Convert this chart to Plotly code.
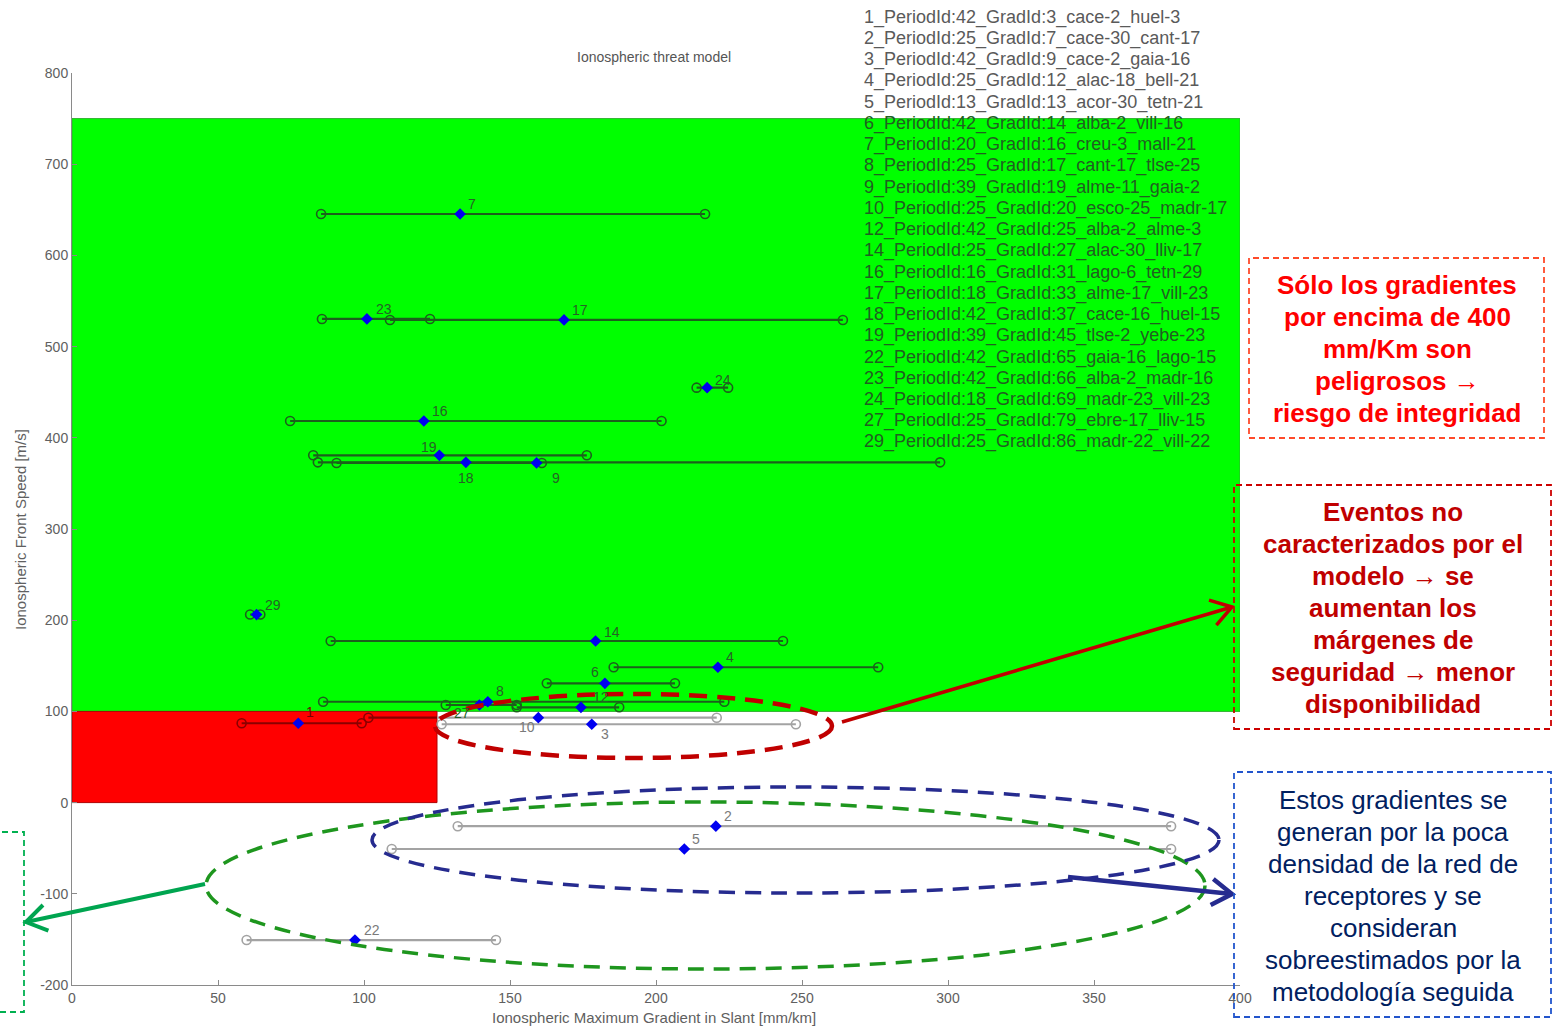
import math
import plotly.graph_objects as go

# ---------------- data ----------------
event_ids = [1, 2, 3, 4, 5, 6, 7, 8, 9, 10, 12, 14, 16, 17, 18, 19, 22, 23, 24, 27, 29]
grad_center = [77.5, 220.5, 178.0, 221.2, 209.7, 182.5, 132.9, 142.4, 159.1, 159.7, 174.3,
               179.3, 120.5, 168.5, 134.9, 125.8, 96.9, 101.0, 217.5, 139.5, 63.2]
grad_min = [58.1, 132.1, 126.6, 185.5, 109.5, 162.6, 85.3, 86.0, 90.6, 101.5, 152.3,
            88.6, 74.7, 108.9, 84.2, 82.6, 59.8, 85.6, 213.9, 128.0, 61.0]
grad_max = [99.2, 376.4, 247.9, 276.1, 376.4, 206.5, 216.8, 223.4, 160.9, 220.8, 187.4,
            243.5, 201.9, 264.0, 297.3, 176.3, 145.2, 122.6, 224.7, 152.3, 64.5]
front_speed = [87.0, -25.9, 85.9, 148.4, -50.9, 130.8, 645.4, 110.6, 372.4, 93.1, 104.5,
               177.2, 418.4, 529.2, 373.1, 380.8, -150.7, 530.3, 455.0, 107.0, 206.2]

legend_labels = [
    "1_PeriodId:42_GradId:3_cace-2_huel-3",
    "2_PeriodId:25_GradId:7_cace-30_cant-17",
    "3_PeriodId:42_GradId:9_cace-2_gaia-16",
    "4_PeriodId:25_GradId:12_alac-18_bell-21",
    "5_PeriodId:13_GradId:13_acor-30_tetn-21",
    "6_PeriodId:42_GradId:14_alba-2_vill-16",
    "7_PeriodId:20_GradId:16_creu-3_mall-21",
    "8_PeriodId:25_GradId:17_cant-17_tlse-25",
    "9_PeriodId:39_GradId:19_alme-11_gaia-2",
    "10_PeriodId:25_GradId:20_esco-25_madr-17",
    "12_PeriodId:42_GradId:25_alba-2_alme-3",
    "14_PeriodId:25_GradId:27_alac-30_lliv-17",
    "16_PeriodId:16_GradId:31_lago-6_tetn-29",
    "17_PeriodId:18_GradId:33_alme-17_vill-23",
    "18_PeriodId:42_GradId:37_cace-16_huel-15",
    "19_PeriodId:39_GradId:45_tlse-2_yebe-23",
    "22_PeriodId:42_GradId:65_gaia-16_lago-15",
    "23_PeriodId:42_GradId:66_alba-2_madr-16",
    "24_PeriodId:18_GradId:69_madr-23_vill-23",
    "27_PeriodId:25_GradId:79_ebre-17_lliv-15",
    "29_PeriodId:25_GradId:86_madr-22_vill-22",
]

x_ticks = [0, 50, 100, 150, 200, 250, 300, 350, 400]
y_ticks = [-200, -100, 0, 100, 200, 300, 400, 500, 600, 700, 800]

# threat model regions
model_grad_max = 400
model_speed_min = 100
model_speed_max = 750
low_speed_grad_max = 125
low_speed_min = 0

box1_lines = ["Sólo los gradientes", "por encima de 400", "mm/Km son",
              "peligrosos →", "riesgo de integridad"]
box2_lines = ["Eventos no", "caracterizados por el", "modelo → se", "aumentan los",
              "márgenes de", "seguridad → menor", "disponibilidad"]
box3_lines = ["Estos gradientes se", "generan por la poca", "densidad de la red de",
              "receptores y se", "consideran", "sobreestimados por la",
              "metodología seguida"]

# ---------------- layout helpers ----------------
W, H = 1555, 1027
PL, PR, PT, PB = 72, 1240, 73, 985
FONT = "Liberation Sans, Arial, sans-serif"


def px(x):
    return (x - PL) / (PR - PL)


def py(y):
    return (PB - y) / (PB - PT)


def region(x, y):
    if y >= model_speed_min:
        return "green"
    if y >= low_speed_min and x <= low_speed_grad_max:
        return "red"
    return "white"


line_col = {"green": "#1c601c", "red": "#8a0000", "white": "#a3a3a3"}
text_col = {"green": "#266226", "red": "#7a0000", "white": "#7a7a7a"}

fig = go.Figure()

# segments grouped by colour
segs = {k: ([], []) for k in line_col}
circ = {k: ([], []) for k in line_col}
for lo, hi, y in zip(grad_min, grad_max, front_speed):
    pieces = [(lo, hi)]
    if low_speed_min <= y < model_speed_min and lo < low_speed_grad_max < hi:
        pieces = [(lo, low_speed_grad_max), (low_speed_grad_max, hi)]
    for a, b in pieces:
        r = region((a + b) / 2, y)
        segs[r][0].extend([a, b, None])
        segs[r][1].extend([y, y, None])
    for v in (lo, hi):
        r = region(v, y)
        circ[r][0].append(v)
        circ[r][1].append(y)

for k in line_col:
    fig.add_trace(go.Scatter(x=segs[k][0], y=segs[k][1], mode="lines",
                             line=dict(color=line_col[k], width=2.2),
                             hoverinfo="skip", showlegend=False))
    fig.add_trace(go.Scatter(x=circ[k][0], y=circ[k][1], mode="markers",
                             marker=dict(symbol="circle-open", size=9, color=line_col[k],
                                         line=dict(width=1.6)),
                             hoverinfo="skip", showlegend=False))

fig.add_trace(go.Scatter(x=grad_center, y=front_speed, mode="markers",
                         marker=dict(symbol="diamond", size=9, color="#0000f0"),
                         text=[str(i) for i in event_ids],
                         hovertemplate="%{text}: %{x}, %{y}<extra></extra>",
                         showlegend=False))

# event number label placement (anchor, xshift, yshift)
label_pos = {
    1: ("left", 6, 11), 2: ("left", 6, 10), 3: ("left", 7, -10), 4: ("left", 6, 10),
    5: ("left", 6, 10), 6: ("right", -4, 11), 7: ("left", 6, 10), 8: ("left", 6, 11),
    9: ("left", 13, -15), 10: ("right", -1, -9), 12: ("left", 10, 10),
    14: ("left", 6, 9), 16: ("left", 6, 10), 17: ("left", 6, 10), 18: ("center", 0, -16),
    19: ("right", 0, 8), 22: ("left", 7, 10), 23: ("left", 7, 10), 24: ("left", 6, 8),
    27: ("right", -7, -8), 29: ("left", 6, 10),
}

annotations = []
for eid, xc, yc in zip(event_ids, grad_center, front_speed):
    anc, dx, dy = label_pos[eid]
    annotations.append(dict(x=xc, y=yc, xref="x", yref="y", text=str(eid),
                            showarrow=False, xanchor=anc, yanchor="middle",
                            xshift=dx, yshift=dy,
                            font=dict(family=FONT, size=14,
                                      color=text_col[region(xc, yc)])))

# legend text block
for i, lab in enumerate(legend_labels):
    ypix = 17 + i * 21.25
    col = "#5a5a5a" if ypix < 118 else "#206020"
    annotations.append(dict(x=px(862), y=py(ypix), xref="paper", yref="paper",
                            text=lab, showarrow=False, xanchor="left", yanchor="middle",
                            font=dict(family=FONT, size=18, color=col)))

# titles
annotations.append(dict(x=px(654), y=py(57), xref="paper", yref="paper",
                        text="Ionospheric threat model", showarrow=False,
                        xanchor="center", yanchor="middle",
                        font=dict(family=FONT, size=14, color="#555555")))
annotations.append(dict(x=px(654), y=py(1018), xref="paper", yref="paper",
                        text="Ionospheric Maximum Gradient in Slant [mm/km]", showarrow=False,
                        xanchor="center", yanchor="middle",
                        font=dict(family=FONT, size=15, color="#606060")))
annotations.append(dict(x=px(20), y=py(530), xref="paper", yref="paper", textangle=-90,
                        text="Ionospheric Front Speed [m/s]", showarrow=False,
                        xanchor="center", yanchor="middle",
                        font=dict(family=FONT, size=15, color="#606060")))


def text_block(lines, cx, y0, step, color, bold):
    for j, t in enumerate(lines):
        txt = f"<b>{t}</b>" if bold else t
        annotations.append(dict(x=px(cx), y=py(y0 + j * step), xref="paper", yref="paper",
                                text=txt, showarrow=False, xanchor="center",
                                yanchor="middle",
                                font=dict(family=FONT, size=26, color=color)))


text_block(box1_lines, 1397, 285, 31.9, "#ff0000", True)
text_block(box2_lines, 1393, 512, 32.05, "#c00000", True)
text_block(box3_lines, 1393, 800, 31.95, "#002060", False)

# ---------------- shapes ----------------
shapes = [
    dict(type="rect", xref="x", yref="y", x0=0, x1=model_grad_max,
         y0=model_speed_min, y1=model_speed_max, fillcolor="#00ff00",
         line=dict(color="#30b030", width=1), layer="below"),
    dict(type="rect", xref="x", yref="y", x0=0, x1=low_speed_grad_max,
         y0=low_speed_min, y1=model_speed_min, fillcolor="#ff0000",
         line=dict(color="#b00000", width=1), layer="below"),
]


def ellipse(x0, x1, y0, y1, color, width, dash):
    shapes.append(dict(type="circle", xref="paper", yref="paper",
                       x0=px(x0), x1=px(x1), y0=py(y1), y1=py(y0),
                       line=dict(color=color, width=width, dash=dash), layer="above"))


def box(x0, x1, y0, y1, color, dash="6px,4px"):
    shapes.append(dict(type="rect", xref="paper", yref="paper",
                       x0=px(x0), x1=px(x1), y0=py(y1), y1=py(y0),
                       line=dict(color=color, width=1.8, dash=dash), layer="above"))


def arrow(x0, y0, x1, y1, color, width, head=24, ang=33):
    shapes.append(dict(type="line", xref="paper", yref="paper",
                       x0=px(x0), y0=py(y0), x1=px(x1), y1=py(y1),
                       line=dict(color=color, width=width), layer="above"))
    L = math.hypot(x1 - x0, y1 - y0)
    ux, uy = (x0 - x1) / L, (y0 - y1) / L
    pts = []
    for s in (1, -1):
        a = math.radians(ang * s)
        rx = ux * math.cos(a) - uy * math.sin(a)
        ry = ux * math.sin(a) + uy * math.cos(a)
        pts.append((x1 + rx * head, y1 + ry * head))
    path = (f"M {px(pts[0][0])},{py(pts[0][1])} L {px(x1)},{py(y1)} "
            f"L {px(pts[1][0])},{py(pts[1][1])}")
    shapes.append(dict(type="path", xref="paper", yref="paper", path=path,
                       line=dict(color=color, width=width), layer="above"))


ellipse(206, 1205, 802, 969, "#1e961e", 3.5, "16px,10px")
ellipse(372, 1219, 787, 893, "#262b8f", 3.5, "16px,10px")
ellipse(435, 832, 694, 758, "#c00000", 4.5, "18px,10px")

arrow(842, 722, 1232, 607, "#c00000", 3.5)
arrow(1068, 877, 1232, 894, "#262b8f", 4.5)
arrow(205, 884, 26, 922, "#00a550", 4)

box(1249, 1544, 258, 438, "#ff4a2a")
box(1234, 1551, 485, 729, "#cc0000")
box(1234, 1551, 772, 1017, "#2255cc")
box(-40, 24, 832, 1012, "#00b050")

axis_common = dict(showgrid=False, zeroline=False, showline=True, linecolor="#8a8a8a",
                   linewidth=1, ticks="inside", ticklen=5, tickcolor="#8a8a8a",
                   mirror=False, tickfont=dict(family=FONT, size=14, color="#606060"))

fig.update_layout(
    width=W, height=H, autosize=False,
    margin=dict(l=PL, r=W - PR, t=PT, b=H - PB, pad=0),
    paper_bgcolor="white", plot_bgcolor="white",
    xaxis=dict(range=[0, 400], tickvals=x_ticks, ticktext=[str(v) for v in x_ticks],
               **axis_common),
    yaxis=dict(range=[-200, 800], tickvals=y_ticks, ticktext=[str(v) for v in y_ticks],
               **axis_common),
    shapes=shapes, annotations=annotations, showlegend=False,
    font=dict(family=FONT),
)

fig.write_html("out.html")
